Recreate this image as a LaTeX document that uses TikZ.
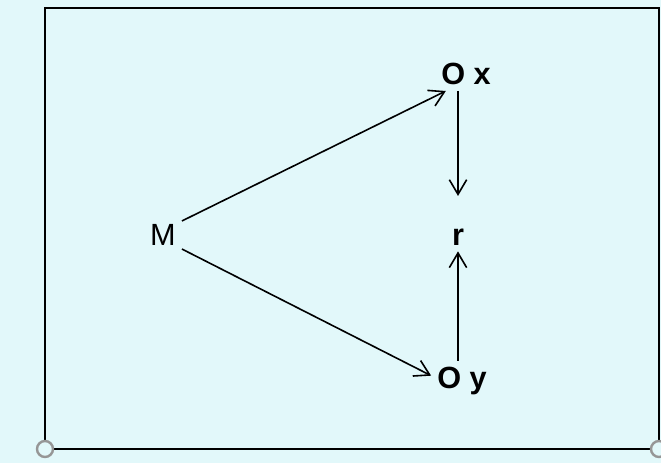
\documentclass[tikz,border=0pt]{standalone}
\usepackage{fontspec}
\setmainfont{Liberation Sans}
\usetikzlibrary{arrows.meta}
\definecolor{paper}{RGB}{226,248,250}
\definecolor{ring}{RGB}{150,150,150}
\begin{document}
\begin{tikzpicture}[x=0.75pt, y=-0.75pt, line width=1.2pt, every node/.style={scale=1}]
    \tikzset{var/.style={inner xsep=4pt, inner ysep=4pt, font=\fontsize{23}{26}\selectfont\bfseries},
      arr/.style={-{Straight Barb[length=11pt,width=13pt]}}};
    \fill[paper] (0,0) rectangle (661,463);
    \useasboundingbox (0,0) rectangle (661,463);
    \draw[line width=1.3pt] (45,449) -- (45,8) -- (659,8) -- (659,449) -- cycle;
    \draw[ring, line width=1.8pt, fill=paper] (45,449) circle[radius=8];
    \draw[ring, line width=1.8pt, fill=paper] (659,449) circle[radius=8];
    \node[var, inner ysep=2pt, font=\fontsize{23}{26}\selectfont] (M) at (163,235) {M};
    \node[var] (Ox) at (466,74) {O x};
    \node[var] (r) at (458,237) {r};
    \node[var] (Oy) at (462,381) {O y};
    {
      \path
        (M.north east) edge[arr] ([xshift=8pt]Ox.south west)
        (M.south east) edge[arr] ([yshift=4pt]Oy.west)
        (Ox.south -| r) edge[arr] ([yshift=20pt]r.north)
        (Oy.north -| r) edge[arr] (r.south)
        ;
      }
    \end{tikzpicture}
\end{document}
